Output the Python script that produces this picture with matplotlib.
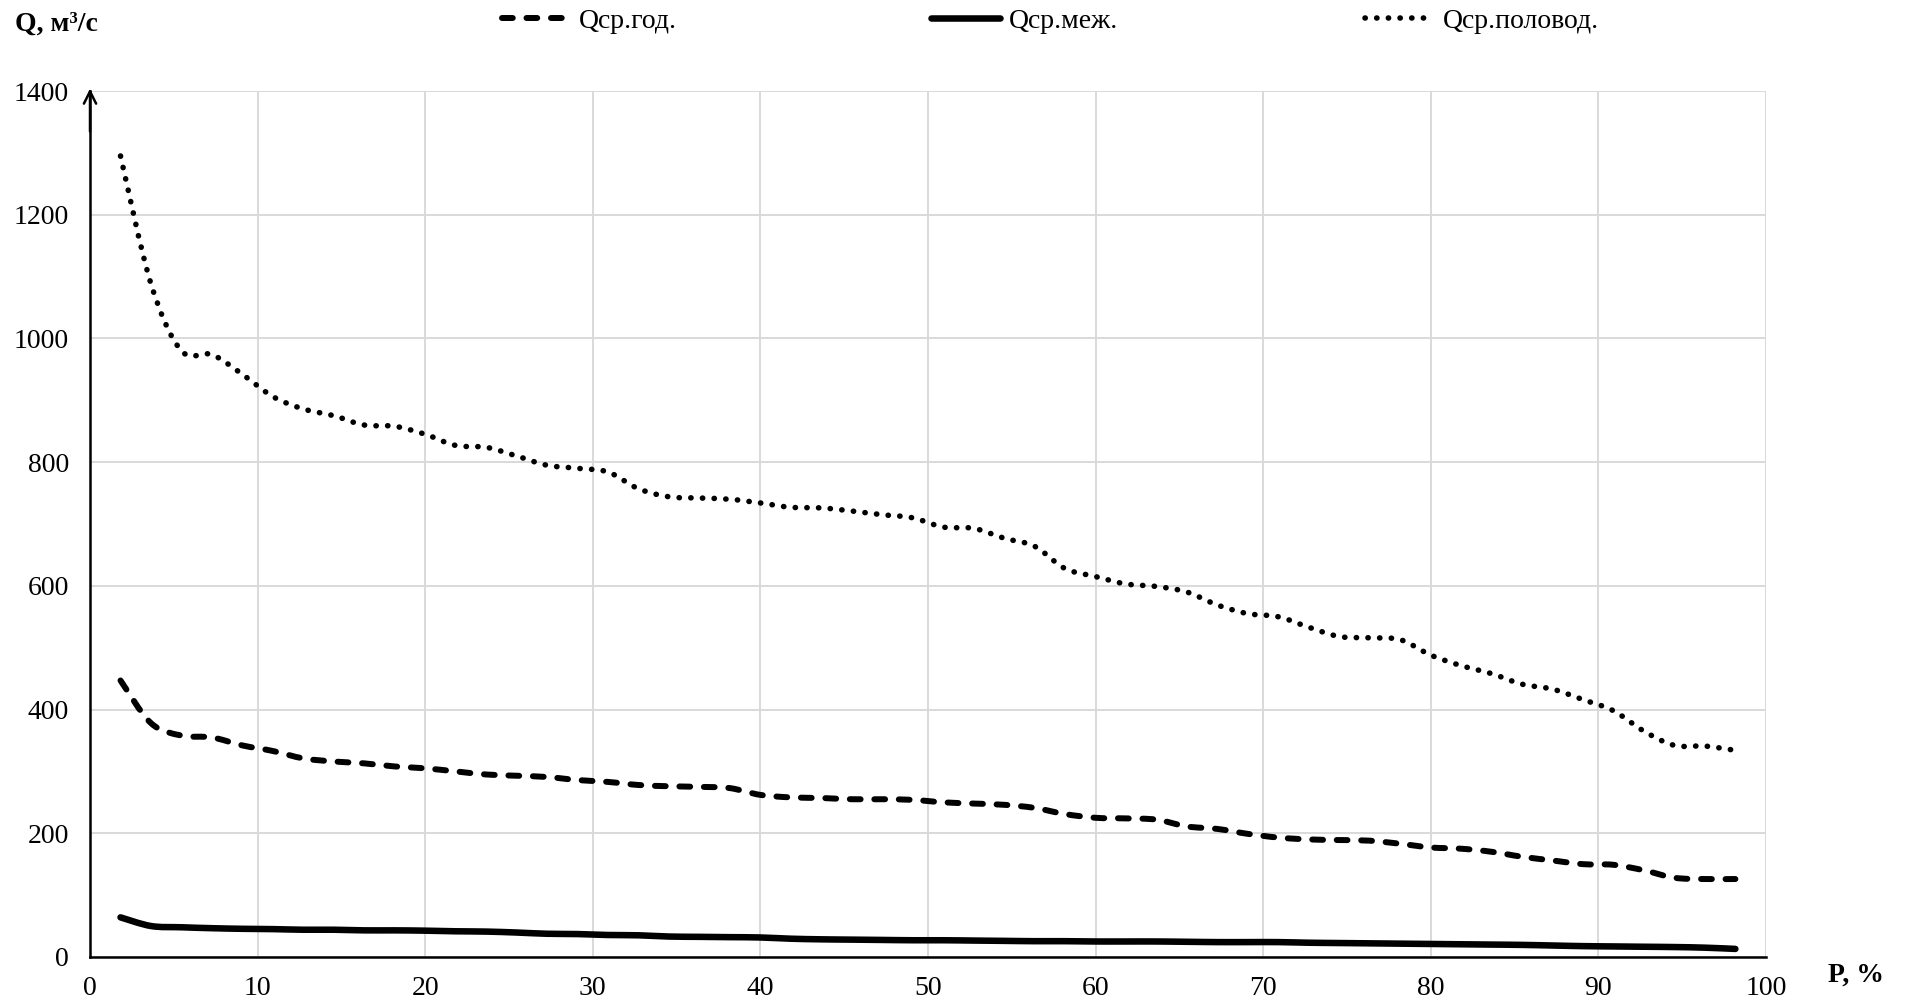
import numpy as np
import matplotlib
matplotlib.use('Agg')
import matplotlib.pyplot as plt
from matplotlib.path import Path
from matplotlib.patches import PathPatch
from matplotlib.lines import Line2D

plt.rcParams['font.family'] = ['Liberation Serif', 'DejaVu Serif']

# обеспеченность, %
p_percent = [1.82, 3.64, 5.45, 7.27, 9.09, 10.91, 12.73, 14.55, 16.36, 18.18,
             20.00, 21.82, 23.64, 25.45, 27.27, 29.09, 30.91, 32.73, 34.55, 36.36,
             38.18, 40.00, 41.82, 43.64, 45.45, 47.27, 49.09, 50.91, 52.73, 54.55,
             56.36, 58.18, 60.00, 61.82, 63.64, 65.45, 67.27, 69.09, 70.91, 72.73,
             74.55, 76.36, 78.18, 80.00, 81.82, 83.64, 85.45, 87.27, 89.09, 90.91,
             92.73, 94.55, 96.36, 98.18]

# среднегодовой расход
q_year = [447, 378, 358, 355, 342, 333, 321, 316, 313, 308,
          305, 300, 295, 293, 291, 286, 283, 278, 276, 275,
          273, 262, 258, 257, 255, 255, 254, 250, 248, 246,
          241, 231, 225, 224, 222, 211, 207, 199, 193, 190,
          189, 188, 183, 177, 175, 170, 162, 156, 150, 149,
          140, 128, 126, 126]

# средний меженный расход
q_low = [64, 50, 48, 46.5, 45.5, 45, 44, 44, 43, 43,
         42.5, 41.5, 41, 39.5, 37.5, 37, 35.5, 35, 33, 32.5,
         32, 31.5, 29.5, 28.5, 28, 27.5, 27, 27, 26.5, 26,
         25.5, 25.5, 25, 25, 25, 24.5, 24, 24, 24, 23,
         22.5, 22, 21.5, 21, 20.5, 20, 19.5, 18.5, 17.5, 17,
         16.5, 16, 15, 13]

# средний расход половодья
q_flood = [1295, 1088, 980, 974, 942, 906, 886, 875, 860, 858,
           845, 827, 824, 810, 795, 790, 784, 757, 744, 742,
           740, 734, 727, 726, 721, 715, 710, 695, 693, 677,
           664, 628, 615, 603, 599, 590, 569, 555, 550, 533,
           518, 516, 513, 488, 471, 458, 441, 433, 416, 398,
           365, 342, 341, 334]


def smooth_path(x, y):
    # сглаженная линия: кубические кривые Безье через все точки
    pts = np.column_stack([x, y]).astype(float)
    ext = np.vstack([pts[0], pts, pts[-1]])
    verts = [pts[0]]
    codes = [Path.MOVETO]
    for i in range(len(pts) - 1):
        p0, p1, p2, p3 = ext[i], ext[i + 1], ext[i + 2], ext[i + 3]
        verts += [p1 + (p2 - p0) / 6, p2 - (p3 - p1) / 6, p2]
        codes += [Path.CURVE4] * 3
    return Path(verts, codes)


styles = [
    ('Qср.год.', q_year, dict(linewidth=4.3, linestyle=(0, (1.8, 2.3)))),
    ('Qср.меж.', q_low, dict(linewidth=4.7, linestyle='-')),
    ('Qср.половод.', q_flood, dict(linewidth=4.0, linestyle=(0, (0.05, 2.05)))),
]

fig = plt.figure(figsize=(19.07, 10.07), dpi=100)
ax = fig.add_axes([0.0472, 0.0497, 0.8788, 0.8599])

for name, q, st in styles:
    patch = PathPatch(smooth_path(p_percent, q), facecolor='none', edgecolor='black',
                      capstyle='round', joinstyle='round', zorder=3, **st)
    ax.add_patch(patch)

ax.set_xlim(0, 100)
ax.set_ylim(0, 1400)
ax.set_xticks(np.arange(0, 101, 10))
ax.set_yticks(np.arange(0, 1401, 200))
ax.grid(color='#d9d9d9', linewidth=1.4)
ax.set_axisbelow(True)
ax.tick_params(length=0, labelsize=20, colors='black')
ax.tick_params(axis='x', pad=14)
ax.tick_params(axis='y', pad=15)
for s in ['top', 'right']:
    ax.spines[s].set_visible(False)
for s in ['left', 'bottom']:
    ax.spines[s].set_linewidth(1.8)
    ax.spines[s].set_color('black')

# стрелка оси Q
ax.annotate('', xy=(0, 1.006), xytext=(0, 0.95), xycoords='axes fraction',
            arrowprops=dict(arrowstyle='->', lw=1.8, color='black', mutation_scale=22),
            annotation_clip=False)

fig.text(0.008, 0.976, 'Q, м³/с', fontsize=20, fontweight='bold', va='center', ha='left')
fig.text(0.9585, 0.032, 'P, %', fontsize=20, fontweight='bold', va='center', ha='left')

# легенда
anchors = [0.263, 0.488, 0.716]
for (name, q, st), xa in zip(styles, anchors):
    h = Line2D([], [], color='black', dash_capstyle='round', solid_capstyle='round', **st)
    fig.legend(handles=[h], labels=[name], loc='center left', bbox_to_anchor=(xa, 0.979),
               frameon=False, fontsize=20, handlelength=2.5, handletextpad=0.3,
               borderpad=0, borderaxespad=0)

fig.savefig('out.png', dpi=100)
